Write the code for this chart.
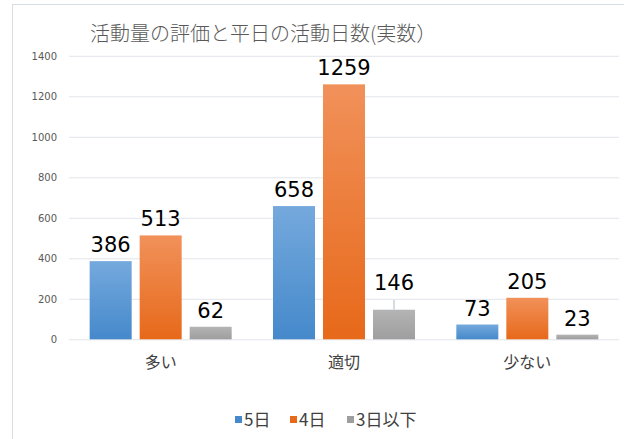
<!DOCTYPE html>
<html>
<head>
<meta charset="utf-8">
<script src="https://cdn.jsdelivr.net/npm/d3@7"></script>
<style>
  body { margin: 0; background: #fff; }
  svg { display: block; }
</style>
</head>
<body>
<div id="chart"></div>
<script>
const title = '活動量の評価と平日の活動日数(実数）'
const categories = ['多い', '適切', '少ない']
const seriesNames = ['5日', '4日', '3日以下']
const days5 = [386, 658, 73]
const days4 = [513, 1259, 205]
const days3less = [62, 146, 23]
const tickValues = [0, 200, 400, 600, 800, 1000, 1200, 1400]

const jpFont = '"Noto Sans CJK JP", "Noto Sans", sans-serif'
const numFont = '"DejaVu Sans", sans-serif'

const W = 624
const H = 439
const margin = { top: 55.8, right: 5, bottom: 99.7, left: 69 }

const colors = [
  ['#75a9dd', '#4589cb'],
  ['#f1915a', '#e7691a'],
  ['#b4b4b4', '#9e9e9e']
]

const series = seriesNames.map((name, i) => ({
  name: name,
  values: [days5, days4, days3less][i]
}))

const svg = d3
  .select('#chart')
  .append('svg')
  .attr('width', W)
  .attr('height', H)

svg.append('rect').attr('width', W).attr('height', H).attr('fill', '#fff')

// chart area border (runs off the right and bottom)
svg
  .append('rect')
  .attr('x', 12.5)
  .attr('y', 4.5)
  .attr('width', W)
  .attr('height', H)
  .attr('fill', 'none')
  .attr('stroke', '#d9dde4')

const defs = svg.append('defs')
colors.forEach((c, i) => {
  const g = defs
    .append('linearGradient')
    .attr('id', 'grad' + i)
    .attr('x1', 0)
    .attr('y1', 0)
    .attr('x2', 0)
    .attr('y2', 1)
  g.append('stop').attr('offset', '0%').attr('stop-color', c[0])
  g.append('stop').attr('offset', '100%').attr('stop-color', c[1])
})

const x0 = d3
  .scaleBand()
  .domain(categories)
  .range([margin.left, W - margin.right])
  .padding(0)

const x1 = d3
  .scaleBand()
  .domain(seriesNames)
  .range([0, x0.bandwidth()])
  .paddingInner(0.16)
  .paddingOuter(0.413)

const y = d3
  .scaleLinear()
  .domain([0, 1400])
  .range([H - margin.bottom, margin.top])

// gridlines + y tick labels
const yAxis = svg
  .append('g')
  .attr('transform', 'translate(' + margin.left + ',0)')
  .call(
    d3
      .axisLeft(y)
      .tickValues(tickValues)
      .tickFormat(d3.format('d'))
      .tickSize(-(W - margin.left - margin.right))
      .tickPadding(12)
  )
yAxis.select('.domain').remove()
yAxis.selectAll('line').attr('stroke', '#e1e4ea')
yAxis
  .selectAll('text')
  .attr('fill', '#595959')
  .style('font-family', numFont)
  .style('font-size', '10px')

// bars
const groups = svg
  .selectAll('.grp')
  .data(series)
  .enter()
  .append('g')
  .attr('fill', (d, i) => 'url(#grad' + i + ')')

groups
  .selectAll('rect')
  .data(d => d.values.map((v, j) => ({ s: d.name, c: categories[j], v: v })))
  .enter()
  .append('rect')
  .attr('x', d => x0(d.c) + x1(d.s))
  .attr('y', d => y(d.v))
  .attr('width', x1.bandwidth())
  .attr('height', d => y(0) - y(d.v))

// value labels
const labelData = []
series.forEach(s => {
  s.values.forEach((v, j) => labelData.push({ s: s.name, c: categories[j], v: v }))
})

// the 146 label sits higher with a leader line, as in the original
const lifted = d => d.v === 146

svg
  .selectAll('.leader')
  .data(labelData.filter(lifted))
  .enter()
  .append('line')
  .attr('x1', d => x0(d.c) + x1(d.s) + x1.bandwidth() / 2)
  .attr('x2', d => x0(d.c) + x1(d.s) + x1.bandwidth() / 2)
  .attr('y1', d => y(d.v))
  .attr('y2', d => y(d.v) - 10)
  .attr('stroke', '#c8d0da')
  .attr('stroke-width', 1.5)

svg
  .selectAll('.val')
  .data(labelData)
  .enter()
  .append('text')
  .attr('x', d => x0(d.c) + x1(d.s) + x1.bandwidth() / 2)
  .attr('y', d => y(d.v) - (lifted(d) ? 19.5 : 9))
  .attr('text-anchor', 'middle')
  .attr('fill', '#000')
  .style('font-family', numFont)
  .style('font-size', '21px')
  .text(d => d.v)

// category labels
svg
  .selectAll('.cat')
  .data(categories)
  .enter()
  .append('text')
  .attr('x', d => x0(d) + x0.bandwidth() / 2)
  .attr('y', 368)
  .attr('text-anchor', 'middle')
  .attr('fill', '#404040')
  .style('font-family', jpFont)
  .style('font-size', '16px')
  .text(d => d)

// title
svg
  .append('text')
  .attr('x', 90)
  .attr('y', 41)
  .attr('fill', '#595959')
  .style('font-family', jpFont)
  .style('font-size', '20px')
  .style('font-weight', 300)
  .text(title)

// legend
const legendX = [235, 290, 347]
const legend = svg
  .selectAll('.leg')
  .data(series)
  .enter()
  .append('g')
  .attr('transform', (d, i) => 'translate(' + legendX[i] + ',416)')
legend
  .append('rect')
  .attr('width', 7)
  .attr('height', 7)
  .attr('fill', (d, i) => colors[i][1])
legend
  .append('text')
  .attr('x', 9)
  .attr('y', 10)
  .attr('fill', '#404040')
  .style('font-family', jpFont)
  .style('font-size', '17px')
  .text(d => d.name)
</script>
</body>
</html>
